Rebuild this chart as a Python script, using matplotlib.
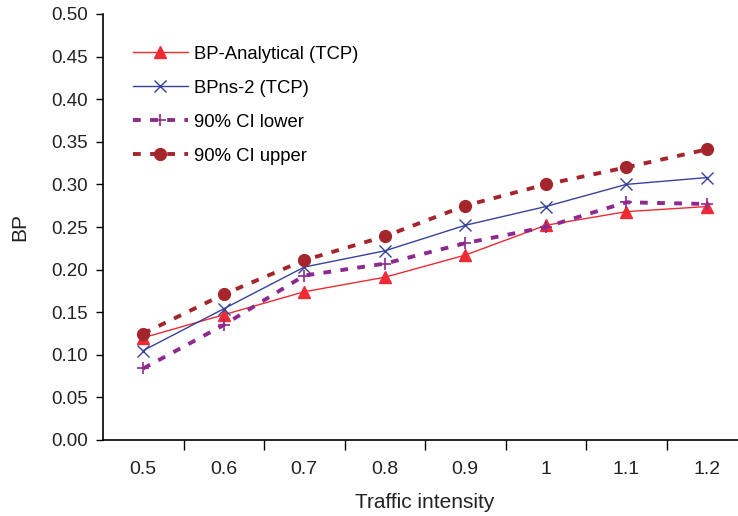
import matplotlib
matplotlib.use("Agg")
import matplotlib.pyplot as plt
import numpy as np

categories = ["0.5", "0.6", "0.7", "0.8", "0.9", "1", "1.1", "1.2"]
bp_analytical = [0.120, 0.147, 0.174, 0.191, 0.217, 0.252, 0.268, 0.274]
bp_ns2 = [0.105, 0.154, 0.203, 0.222, 0.252, 0.274, 0.300, 0.308]
ci_lower = [0.084, 0.135, 0.193, 0.207, 0.231, 0.250, 0.279, 0.277]
ci_upper = [0.125, 0.171, 0.211, 0.239, 0.275, 0.300, 0.320, 0.341]
yticks = [0.00, 0.05, 0.10, 0.15, 0.20, 0.25, 0.30, 0.35, 0.40, 0.45, 0.50]

plt.rcParams['font.family'] = ['Liberation Sans', 'DejaVu Sans']

fig = plt.figure(figsize=(7.38, 5.16), dpi=100)
ax = fig.add_axes([103/738, 76/516, 644/738, 426/516])

x = np.arange(len(categories))
ax.plot(x, bp_analytical, color='#ee2a35', lw=1.0, marker='^', ms=8,
        label='BP-Analytical (TCP)')
ax.plot(x, bp_ns2, color='#36439a', lw=1.0, marker='x', ms=8, mew=1.0,
        label='BPns-2 (TCP)')
ax.plot(x, ci_lower, color='#8e2a8f', lw=2.8, ls=(0, (2, 2.4)), marker='+',
        ms=9, mew=1.2, label='90% CI lower')
ax.plot(x, ci_upper, color='#a5252d', lw=2.8, ls=(0, (2, 2.4)), marker='o',
        ms=8.5, label='90% CI upper')

ax.set_xlim(-0.5, len(categories) - 0.5)
ax.set_ylim(0, 0.5)
ax.set_yticks(yticks)
ax.set_yticklabels([f"{v:.2f}" for v in yticks])
ax.set_xticks(x)
ax.set_xticklabels(categories)
ax.set_xticks(np.arange(len(categories)) + 0.5, minor=True)
ax.tick_params(axis='x', which='major', length=0, pad=15, labelsize=14,
               labelcolor='#222222')
ax.tick_params(axis='x', which='minor', length=7, width=1.0, direction='out')
ax.tick_params(axis='y', length=5, width=1.0, direction='out', labelsize=13.5,
               pad=6, labelcolor='#222222')

for s in ['top', 'right']:
    ax.spines[s].set_visible(False)
for s in ['left', 'bottom']:
    ax.spines[s].set_linewidth(1.2)

ax.set_xlabel('Traffic intensity', fontsize=15, labelpad=11, color='#222222')
ax.set_ylabel('BP', fontsize=15, labelpad=16, color='#222222')

ax.legend(loc='upper left', bbox_to_anchor=(0.02, 0.965), frameon=False,
          fontsize=13.3, handlelength=3.0, labelspacing=0.92, handletextpad=0.35)

fig.savefig('out.png', dpi=100)
